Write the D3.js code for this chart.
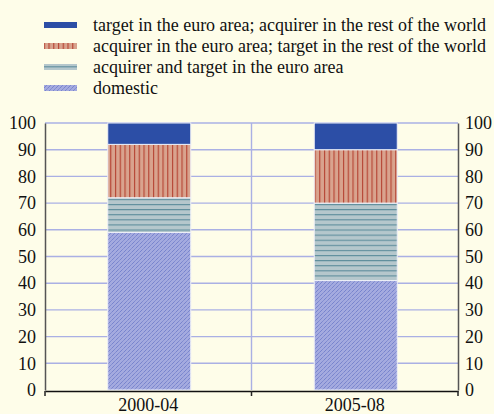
<!DOCTYPE html>
<html><head><meta charset="utf-8">
<script src="https://cdn.jsdelivr.net/npm/d3@7"></script>
<style>html,body{margin:0;padding:0;background:#fefde9;}svg{display:block;} text{font-family:"Liberation Serif","DejaVu Serif",serif;}</style>
</head><body>
<svg id="c" width="494" height="414"></svg>
<script>
const categories = ["2000-04", "2005-08"];
const seriesNames = ["domestic", "acquirer and target in the euro area", "acquirer in the euro area; target in the rest of the world", "target in the euro area; acquirer in the rest of the world"];
const domestic = [59, 41];
const euroArea = [13, 29];
const acquirerEuro = [20, 20];
const targetEuro = [8, 10];
const yTicks = [0, 10, 20, 30, 40, 50, 60, 70, 80, 90, 100];
const legendOrder = [3, 2, 1, 0];

(function () {
const svg = d3.select("#c");
const font = '"Liberation Serif","DejaVu Serif",serif';
const fs = 18;
const defs = svg.append("defs");
const fills = ["url(#pDom)", "url(#pEuro)", "url(#pAcq)", "#2c4ea6"];

// patterns
const pDom = defs.append("pattern").attr("id", "pDom").attr("patternUnits", "userSpaceOnUse").attr("width", 4).attr("height", 4);
pDom.append("rect").attr("width", 4).attr("height", 4).attr("fill", "#a4aadf");
pDom.append("path").attr("d", "M-1,1 L1,-1 M0,4 L4,0 M3,5 L5,3").attr("stroke", "#4a5cba").attr("stroke-width", 0.7).attr("stroke-dasharray", "1,0.7");
const pEuro = defs.append("pattern").attr("id", "pEuro").attr("patternUnits", "userSpaceOnUse").attr("width", 8).attr("height", 5.1);
pEuro.append("rect").attr("width", 8).attr("height", 5.1).attr("fill", "#b5c7cc");
pEuro.append("rect").attr("y", 0).attr("width", 8).attr("height", 1.1).attr("fill", "#5e8d9c");
const pAcq = defs.append("pattern").attr("id", "pAcq").attr("patternUnits", "userSpaceOnUse").attr("width", 4.75).attr("height", 8);
pAcq.append("rect").attr("width", 4.75).attr("height", 8).attr("fill", "#d9a38e");
pAcq.append("rect").attr("x", 1).attr("width", 1.1).attr("height", 8).attr("fill", "#b5402f");

// legend
const lg = svg.append("g");
legendOrder.forEach((si, i) => {
  const yy = 25 + i * 21;
  lg.append("rect").attr("x", 44).attr("y", yy - 3).attr("width", 33).attr("height", 6).attr("fill", fills[si]);
  lg.append("text").attr("x", 93).attr("y", yy + 6).style("font-family", font).style("font-size", fs + "px").attr("fill", "#111").text(seriesNames[si]);
});

const pl = 45, pr = 458, pt = 123, pb = 390;
const x = d3.scaleBand().domain(categories).range([pl, pr]).paddingInner(0).paddingOuter(0);
const y = d3.scaleLinear().domain([0, 100]).range([pb, pt]);

// gridlines
const grid = svg.append("g");
yTicks.filter(t => t > 0).forEach(t => {
  grid.append("line").attr("x1", pl).attr("x2", pr).attr("y1", y(t)).attr("y2", y(t)).attr("stroke", "#aab0e4").attr("stroke-width", 1.4);
});
grid.append("line").attr("x1", x(categories[1])).attr("x2", x(categories[1])).attr("y1", pt).attr("y2", pb).attr("stroke", "#aab0e4").attr("stroke-width", 1.4);

// stacked bars
const data = categories.map((c, i) => ({cat: c, s0: domestic[i], s1: euroArea[i], s2: acquirerEuro[i], s3: targetEuro[i]}));
const stack = d3.stack().keys(["s0", "s1", "s2", "s3"])(data);
const bw = 83;
stack.forEach((layer, si) => {
  svg.append("g").selectAll("rect").data(layer).join("rect")
    .attr("x", d => x(d.data.cat) + x.bandwidth() / 2 - bw / 2 + 1)
    .attr("y", d => y(d[1]))
    .attr("width", bw)
    .attr("height", d => y(d[0]) - y(d[1]))
    .attr("fill", fills[si])
    .attr("stroke", "#eef0f8").attr("stroke-width", 1);
});

// axes
const styleText = g => g.selectAll("text").style("font-family", font).style("font-size", fs + "px").attr("fill", "#111");
const yl = d3.axisLeft(y).tickValues(yTicks).tickSize(0).tickPadding(9);
const gl = svg.append("g").attr("transform", `translate(${pl},0)`).call(yl).attr("font-family", null).attr("font-size", null);
gl.select(".domain").attr("stroke", "#555").attr("stroke-width", 1.5);
styleText(gl);
const yr = d3.axisRight(y).tickValues(yTicks).tickSize(0).tickPadding(7);
const gr = svg.append("g").attr("transform", `translate(${pr},0)`).call(yr).attr("font-family", null).attr("font-size", null);
gr.select(".domain").attr("stroke", "#555").attr("stroke-width", 1.5);
styleText(gr);

const xb = d3.axisBottom(x).tickSize(0).tickPadding(7);
const gb = svg.append("g").attr("transform", `translate(0,${pb + 1})`).call(xb).attr("font-family", null).attr("font-size", null);
gb.select(".domain").attr("stroke", "#111").attr("stroke-width", 1.5);
styleText(gb);
[pl, x(categories[1]), pr].forEach(px => {
  svg.append("line").attr("x1", px).attr("x2", px).attr("y1", pb + 1).attr("y2", pb + 6).attr("stroke", "#222").attr("stroke-width", 1.5);
});
})();
</script>
</body></html>
